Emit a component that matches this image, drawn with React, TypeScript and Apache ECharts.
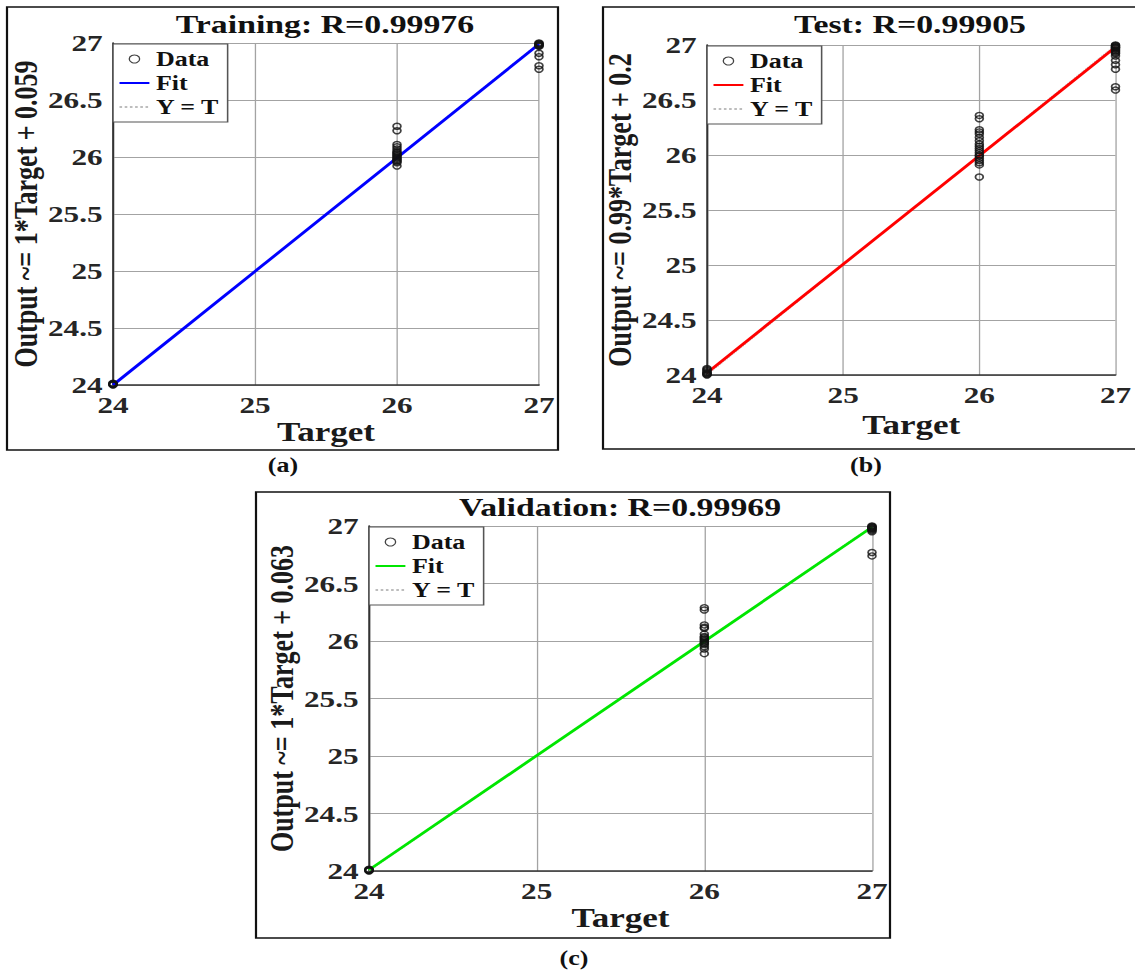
import React, { useEffect, useRef } from "react";
import * as echarts from "echarts";

// ---------- data ----------
const targetTicks = [24, 25, 26, 27];

// Training panel: outputs observed at each target value
const trainAt24 = [24.0, 24.003, 24.006, 24.009, 24.012, 24.015];
const trainAt26 = [26.27, 26.23, 26.11, 26.09, 26.07, 26.05, 26.04, 26.03, 26.02, 26.01, 26.0, 25.99, 25.98, 25.97, 25.96, 25.95, 25.92];
const trainAt27 = [27.0, 26.995, 26.99, 26.985, 26.98, 26.975, 26.97, 26.91, 26.88, 26.8, 26.77];
const trainFit = [24.0, 26.99];

// Test panel
const testAt24 = [24.0, 24.005, 24.01, 24.015, 24.02, 24.03, 24.04, 24.05, 24.06];
const testAt26 = [26.36, 26.33, 26.23, 26.21, 26.19, 26.16, 26.13, 26.1, 26.08, 26.06, 26.04, 26.02, 26.0, 25.99, 25.97, 25.95, 25.93, 25.91, 25.8];
const testAt27 = [27.0, 26.995, 26.99, 26.985, 26.98, 26.975, 26.97, 26.96, 26.95, 26.94, 26.93, 26.92, 26.9, 26.86, 26.82, 26.78, 26.62, 26.59];
const testFit = [24.02, 26.98];

// Validation panel
const valAt24 = [24.0, 24.003, 24.006, 24.009, 24.012, 24.015];
const valAt26 = [26.29, 26.27, 26.14, 26.12, 26.11, 26.06, 26.04, 26.03, 26.02, 26.01, 26.0, 25.99, 25.98, 25.97, 25.95, 25.93, 25.89];
const valAt27 = [27.0, 26.995, 26.99, 26.985, 26.98, 26.975, 26.97, 26.96, 26.95, 26.77, 26.74];
const valFit = [24.01, 26.99];

const fitTargets = [24, 27];
const identity = [24, 27];

const titles = ["Training: R=0.99976", "Test: R=0.99905", "Validation: R=0.99969"];
const yNames = ["Output ~= 1*Target + 0.059", "Output ~= 0.99*Target + 0.2", "Output ~= 1*Target + 0.063"];
const captions = ["(a)", "(b)", "(c)"];
const fitColors = ["#0000ff", "#ff0000", "#00e600"];
const keys = ["a", "b", "c"];

// ---------- layout ----------
const W = 1135;
const H = 972;
const S = 1.3; // horizontal stretch of the original figure
const X = (v: number) => v / S;
const FONT = "'Liberation Serif', 'Times New Roman', serif";

const toPoints = (t: number, vals: number[]) => vals.map((v) => [t, v]);

const panelData = [
  [...toPoints(24, trainAt24), ...toPoints(26, trainAt26), ...toPoints(27, trainAt27)],
  [...toPoints(24, testAt24), ...toPoints(26, testAt26), ...toPoints(27, testAt27)],
  [...toPoints(24, valAt24), ...toPoints(26, valAt26), ...toPoints(27, valAt27)],
];
const panelFit = [trainFit, testFit, valFit];

const grids = [
  { left: X(113), top: 43, width: X(539) - X(113), height: 342 },
  { left: X(707), top: 45, width: X(1120) - X(707), height: 330 },
  { left: X(369), top: 526, width: X(872) - X(369), height: 345 },
];
const xNameGaps = [33, 36, 33];
const yNameGaps = [54, 52, 54];
const titlePos = [
  [X(325), 24],
  [X(910), 24],
  [X(620), 507],
];
const captionPos = [
  [X(283), 465],
  [X(866), 465],
  [X(574), 958],
];
const borders = [
  { x: X(7), y: 7, width: X(558) - X(7), height: 443 },
  { x: X(603), y: 7, width: X(1150) - X(603), height: 442 },
  { x: X(256), y: 492, width: X(890) - X(256), height: 446 },
];

const hiddenSymbol = { color: "rgba(0,0,0,0)", borderColor: "rgba(0,0,0,0)", borderWidth: 0 };

function buildOption() {
  const xAxis: any[] = [];
  const yAxis: any[] = [];
  const series: any[] = [];
  const legend: any[] = [];
  const graphic: any[] = [];

  for (let i = 0; i < 3; i++) {
    const k = keys[i];
    xAxis.push({
      type: "value",
      gridIndex: i,
      min: targetTicks[0],
      max: targetTicks[targetTicks.length - 1],
      interval: 1,
      name: "Target",
      nameLocation: "middle",
      nameGap: xNameGaps[i],
      nameTextStyle: { fontFamily: FONT, fontWeight: "bold", fontSize: 27, color: "#1a1a1a" },
      axisLine: { show: true, onZero: false, lineStyle: { color: "#333", width: 1.5 } },
      axisTick: { show: false },
      axisLabel: { margin: 8, fontFamily: FONT, fontWeight: "bold", fontSize: 24, color: "#262626" },
      splitLine: { show: true, lineStyle: { color: "#a3a3a3", width: 1 } },
    });
    yAxis.push({
      type: "value",
      gridIndex: i,
      min: 24,
      max: 27,
      interval: 0.5,
      name: yNames[i],
      nameLocation: "middle",
      nameGap: yNameGaps[i],
      nameTextStyle: { fontFamily: FONT, fontWeight: "bold", fontSize: 26, color: "#1a1a1a" },
      axisLine: { show: true, onZero: false, lineStyle: { color: "#333", width: 1.5 } },
      axisTick: { show: false },
      axisLabel: { margin: 8, fontFamily: FONT, fontWeight: "bold", fontSize: 24, color: "#262626" },
      splitLine: { show: true, lineStyle: { color: "#a3a3a3", width: 1 } },
    });

    series.push({
      name: `${k}|Y = T`,
      type: "line",
      xAxisIndex: i,
      yAxisIndex: i,
      data: identity.map((v, j) => [fitTargets[j], v]),
      symbol: "none",
      clip: false,
      lineStyle: { color: "#bdbdbd", width: 1, type: "dotted" },
      itemStyle: { color: "#bdbdbd" },
      z: 2,
    });
    series.push({
      name: `${k}|Fit`,
      type: "line",
      xAxisIndex: i,
      yAxisIndex: i,
      data: panelFit[i].map((v, j) => [fitTargets[j], v]),
      symbol: "none",
      clip: false,
      lineStyle: { color: fitColors[i], width: 2.6 },
      itemStyle: { color: fitColors[i] },
      z: 3,
    });
    series.push({
      name: `${k}|Data`,
      type: "scatter",
      xAxisIndex: i,
      yAxisIndex: i,
      data: panelData[i],
      symbol: "circle",
      symbolSize: 6,
      clip: false,
      itemStyle: { color: "rgba(255,255,255,0)", borderColor: "#111", borderWidth: 1.4 },
      z: 4,
    });

    legend.push({
      orient: "vertical",
      left: grids[i].left,
      top: grids[i].top + 1,
      selectedMode: false,
      backgroundColor: "#fff",
      borderColor: "#555",
      borderWidth: 1.2,
      borderRadius: 0,
      padding: [5, 6, 5, 4],
      itemGap: 4,
      itemWidth: 23,
      itemHeight: 8,
      formatter: (name: string) => name.split("|")[1],
      textStyle: { fontFamily: FONT, fontWeight: "bold", fontSize: 20, lineHeight: 20, color: "#111" },
      data: [
        {
          name: `${k}|Data`,
          icon: "circle",
          itemStyle: { color: "#fff", borderColor: "#111", borderWidth: 1 },
        },
        { name: `${k}|Fit`, itemStyle: hiddenSymbol },
        { name: `${k}|Y = T`, itemStyle: hiddenSymbol },
      ],
    });

    graphic.push({
      type: "rect",
      shape: borders[i],
      style: { fill: "none", stroke: "#111", lineWidth: 1.7 },
      silent: true,
      z: 100,
    });
    graphic.push({
      type: "text",
      x: titlePos[i][0],
      y: titlePos[i][1],
      style: {
        text: titles[i],
        fontFamily: FONT,
        fontWeight: "bold",
        fontSize: 26,
        fill: "#111",
        align: "center",
        verticalAlign: "middle",
      },
      z: 100,
    });
    graphic.push({
      type: "text",
      x: captionPos[i][0],
      y: captionPos[i][1],
      style: {
        text: captions[i],
        fontFamily: FONT,
        fontWeight: "bold",
        fontSize: 20,
        fill: "#111",
        align: "center",
        verticalAlign: "middle",
      },
      z: 100,
    });
  }

  return {
    animation: false,
    backgroundColor: "#fff",
    grid: grids,
    xAxis,
    yAxis,
    series,
    legend,
    graphic,
  };
}

export default function App() {
  const ref = useRef<HTMLDivElement>(null);
  useEffect(() => {
    if (!ref.current) return;
    const chart = echarts.init(ref.current, undefined, { renderer: "svg", width: X(W), height: H });
    chart.setOption(buildOption() as any);
    return () => chart.dispose();
  }, []);
  return (
    <div style={{ position: "absolute", left: 0, top: 0, width: W, height: H, overflow: "hidden", background: "#fff" }}>
      <div
        ref={ref}
        style={{ width: X(W), height: H, transform: `scaleX(${S})`, transformOrigin: "0 0" }}
      />
    </div>
  );
}
